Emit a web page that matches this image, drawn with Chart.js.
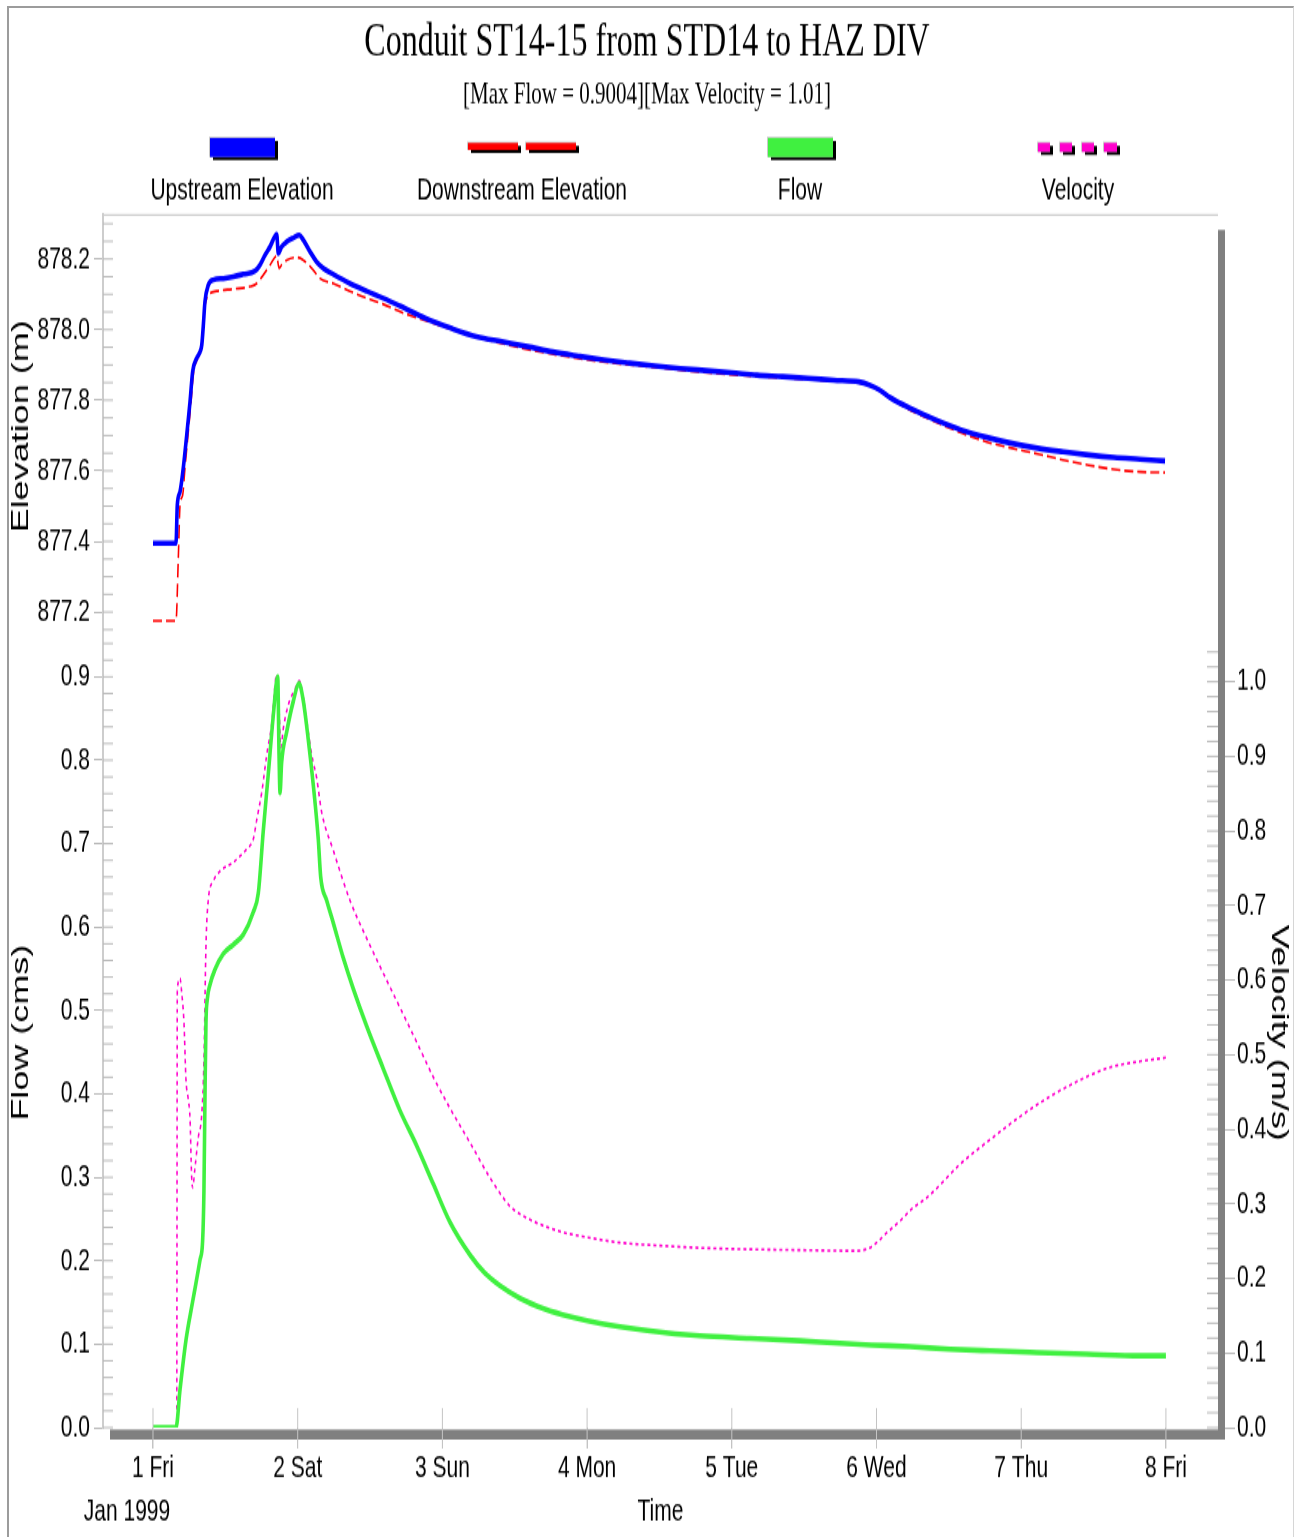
<!DOCTYPE html>
<html>
<head>
<meta charset="utf-8">
<title>Conduit ST14-15 from STD14 to HAZ DIV</title>
<script src="https://cdn.jsdelivr.net/npm/chart.js@4.4.1/dist/chart.umd.min.js"></script>
<style>
  html, body { margin: 0; padding: 0; background: #fff; }
  body { width: 1294px; height: 1537px; position: relative; overflow: hidden; }
  #frame { position: absolute; left: 7px; top: 6px; width: 1284px; height: 1540px;
           border-left: 2px solid #9c9c9c; border-top: 2px solid #9c9c9c; border-right: 1px solid #d6d6d6; }
  #chart { position: absolute; left: 0; top: 0; }
</style>
</head>
<body>
<div id="frame"></div>
<!-- the source picture is a screenshot stretched vertically, so the canvas is drawn
     1025px high and shown 1537px high -->
<canvas id="chart" width="1294" height="1025" style="width:1294px;height:1537px"></canvas>
<script>
// --- data (days of Jan 1999 on x) ---
const dayTicks = [1, 2, 3, 4, 5, 6, 7, 8];
const dayLabels = ["1 Fri", "2 Sat", "3 Sun", "4 Mon", "5 Tue", "6 Wed", "7 Thu", "8 Fri"];
const elevTicks = [877.2, 877.4, 877.6, 877.8, 878.0, 878.2];
const flowTicks = [0, 0.1, 0.2, 0.3, 0.4, 0.5, 0.6, 0.7, 0.8, 0.9];
const velTicks = [0, 0.1, 0.2, 0.3, 0.4, 0.5, 0.6, 0.7, 0.8, 0.9, 1.0];

const upTime = [1.000, 1.159, 1.168, 1.187, 1.209, 1.233, 1.256, 1.274, 1.302, 1.325,
  1.337, 1.348, 1.359, 1.382, 1.417, 1.486, 1.555, 1.624, 1.705, 1.739,
  1.774, 1.809, 1.855, 1.866, 1.889, 1.924, 1.970, 2.011, 2.039, 2.085,
  2.131, 2.177, 2.246, 2.361, 2.477, 2.592, 2.707, 2.883, 3.059, 3.236,
  3.412, 3.589, 3.764, 3.941, 4.117, 4.294, 4.469, 4.646, 4.822, 4.999,
  5.174, 5.352, 5.527, 5.704, 5.879, 5.951, 6.022, 6.092, 6.233, 6.409,
  6.585, 6.762, 6.936, 7.115, 7.289, 7.467, 7.641, 7.821, 7.994];
const upElev = [877.395, 877.395, 877.503, 877.541, 877.607, 877.701, 877.796, 877.881, 877.919, 877.937,
  877.956, 878.013, 878.079, 878.126, 878.141, 878.145, 878.150, 878.157, 878.166, 878.183,
  878.211, 878.235, 878.270, 878.216, 878.235, 878.249, 878.260, 878.268, 878.254, 878.221,
  878.192, 878.174, 878.157, 878.131, 878.109, 878.089, 878.067, 878.032, 878.004, 877.980,
  877.966, 877.952, 877.937, 877.925, 877.914, 877.905, 877.897, 877.890, 877.884, 877.878,
  877.871, 877.867, 877.862, 877.857, 877.852, 877.843, 877.829, 877.808, 877.777, 877.744,
  877.716, 877.695, 877.678, 877.664, 877.654, 877.645, 877.638, 877.633, 877.628];

const dnTime = [1.000, 1.159, 1.175, 1.187, 1.205, 1.221, 1.242, 1.263, 1.280, 1.304,
  1.328, 1.342, 1.352, 1.363, 1.382, 1.440, 1.555, 1.670, 1.717, 1.762,
  1.809, 1.855, 1.871, 1.889, 1.924, 1.993, 2.039, 2.108, 2.154, 2.246,
  2.361, 2.477, 2.592, 2.707, 2.822, 2.937, 3.053, 3.398, 3.744, 4.089,
  4.435, 4.780, 5.195, 5.610, 5.886, 5.990, 6.094, 6.232, 6.411, 6.584,
  6.762, 6.936, 7.115, 7.289, 7.467, 7.641, 7.821, 7.994];
const dnElev = [877.175, 877.175, 877.353, 877.503, 877.531, 877.608, 877.701, 877.795, 877.877, 877.914,
  877.937, 877.971, 878.041, 878.075, 878.098, 878.109, 878.115, 878.122, 878.131, 878.155,
  878.183, 878.209, 878.174, 878.183, 878.197, 878.205, 878.197, 878.169, 878.145, 878.131,
  878.109, 878.089, 878.072, 878.051, 878.034, 878.018, 878.002, 877.962, 877.932, 877.910,
  877.895, 877.880, 877.867, 877.857, 877.849, 877.835, 877.806, 877.772, 877.738, 877.708,
  877.682, 877.664, 877.648, 877.631, 877.616, 877.604, 877.597, 877.595];

const flowTime = [1.000, 1.159, 1.187, 1.228, 1.276, 1.325, 1.343, 1.352, 1.359, 1.366,
  1.375, 1.394, 1.428, 1.486, 1.555, 1.624, 1.693, 1.728, 1.762, 1.797,
  1.831, 1.862, 1.871, 1.878, 1.889, 1.924, 1.970, 2.009, 2.039, 2.073,
  2.108, 2.142, 2.159, 2.200, 2.246, 2.315, 2.384, 2.477, 2.592, 2.707,
  2.822, 2.937, 3.053, 3.191, 3.294, 3.398, 3.536, 3.709, 3.882, 4.089,
  4.435, 4.780, 5.126, 5.471, 5.748, 5.967, 6.232, 6.508, 6.784, 7.107,
  7.453, 7.821, 8.000];
const flowVal = [0, 0, 0.046, 0.105, 0.153, 0.201, 0.224, 0.283, 0.393, 0.485,
  0.513, 0.531, 0.549, 0.568, 0.579, 0.591, 0.618, 0.641, 0.715, 0.784,
  0.853, 0.900, 0.807, 0.761, 0.797, 0.834, 0.871, 0.892, 0.871, 0.825,
  0.770, 0.706, 0.660, 0.632, 0.605, 0.563, 0.526, 0.481, 0.430, 0.380,
  0.338, 0.292, 0.246, 0.207, 0.185, 0.170, 0.155, 0.142, 0.133, 0.125,
  0.116, 0.110, 0.107, 0.104, 0.101, 0.099, 0.097, 0.094, 0.092, 0.090,
  0.088, 0.086, 0.086];

const velTime = [1.000, 1.164, 1.168, 1.187, 1.198, 1.214, 1.228, 1.244, 1.256, 1.267,
  1.274, 1.290, 1.313, 1.337, 1.352, 1.366, 1.382, 1.417, 1.463, 1.555,
  1.648, 1.693, 1.717, 1.751, 1.786, 1.820, 1.855, 1.871, 1.883, 1.901,
  1.935, 1.981, 2.011, 2.039, 2.062, 2.097, 2.131, 2.166, 2.246, 2.361,
  2.477, 2.592, 2.707, 2.822, 2.937, 3.053, 3.191, 3.329, 3.467, 3.605,
  3.813, 4.006, 4.227, 4.504, 4.780, 5.126, 5.471, 5.840, 5.943, 6.001,
  6.070, 6.162, 6.254, 6.347, 6.462, 6.577, 6.784, 6.992, 7.199, 7.406,
  7.614, 7.821, 8.000];
const velVal = [0, 0, 0.586, 0.602, 0.584, 0.543, 0.466, 0.440, 0.414, 0.337,
  0.322, 0.348, 0.389, 0.420, 0.491, 0.645, 0.707, 0.733, 0.746, 0.758,
  0.776, 0.789, 0.815, 0.851, 0.902, 0.943, 1.010, 0.964, 0.912, 0.938,
  0.969, 0.990, 1.001, 0.979, 0.948, 0.902, 0.871, 0.825, 0.774, 0.707,
  0.656, 0.609, 0.563, 0.517, 0.470, 0.428, 0.382, 0.335, 0.297, 0.279,
  0.263, 0.255, 0.248, 0.244, 0.241, 0.239, 0.238, 0.237, 0.240, 0.248,
  0.261, 0.277, 0.295, 0.308, 0.330, 0.353, 0.386, 0.417, 0.444, 0.466,
  0.483, 0.491, 0.496];

// --- look ---
const SANS = "'Liberation Sans', Arial, sans-serif";
const SERIF = "'Liberation Serif', 'Times New Roman', serif";
const TICK_GRAY = "#b9b9b9";

Chart.defaults.color = "#000";
Chart.defaults.font.family = SANS;

const pts = (xs, ys) => xs.map((x, i) => ({ x, y: ys[i] }));
const fixed = vals => scale => { scale.ticks = vals.map(v => ({ value: v })); };

// legend marker kinds and centres (drawn by plugin below)
const legendKinds = ["box", "dash", "box", "dot"];
const legendCenters = [242, 522, 800, 1078];

// minor tick marks drawn inside the frame, like the source
const minorTicks = {
  id: "minorTicks",
  beforeDatasetsDraw(chart) {
    const { ctx, chartArea: a, scales } = chart;
    ctx.save();
    ctx.strokeStyle = TICK_GRAY;
    ctx.lineWidth = 1;
    const run = (scale, from, step, n, x0, x1) => {
      for (let k = 0; k <= n; k++) {
        const py = scale.getPixelForValue(from + k * step);
        ctx.beginPath(); ctx.moveTo(x0, py); ctx.lineTo(x1, py); ctx.stroke();
      }
    };
    run(scales.yElev, 877.15, 0.05, 23, a.left, a.left + 10);
    run(scales.yFlow, 0, 0.02, 47, a.left, a.left + 10);
    run(scales.yVel, 0, 0.02, 52, a.right - 11, a.right);
    ctx.restore();
  }
};

// frame top line, grey drop shadow on right and bottom, x ticks over it
const frame = {
  id: "frame",
  afterDatasetsDraw(chart) {
    const { ctx, chartArea: a, scales } = chart;
    ctx.save();
    ctx.strokeStyle = "#cdcdcd";
    ctx.lineWidth = 1.2;
    ctx.beginPath(); ctx.moveTo(a.left, a.top); ctx.lineTo(a.right, a.top); ctx.stroke();
    ctx.fillStyle = "#808080";
    ctx.fillRect(a.right, a.top + 10, 7, a.bottom - a.top - 10 + 8);
    ctx.fillRect(a.left + 7, a.bottom + 1.3, a.right - a.left, 6.7);
    ctx.strokeStyle = "#c4c4c4";
    ctx.lineWidth = 1;
    dayTicks.forEach(d => {
      const px = scales.x.getPixelForValue(d);
      ctx.beginPath(); ctx.moveTo(px, a.bottom - 13); ctx.lineTo(px, a.bottom + 14); ctx.stroke();
    });
    ctx.restore();
  },
  afterDraw(chart) {
    const ctx = chart.ctx;
    ctx.save();
    // legend: marker above label
    chart.data.datasets.forEach((ds, i) => {
      const cx = legendCenters[i];
      const kind = legendKinds[i];
      let rects;
      if (kind === "box") rects = [[cx - 32, 92, 65, 12.7]];
      else if (kind === "dash") rects = [[cx - 54, 95.3, 50, 4.7], [cx + 4, 95.3, 50, 4.7]];
      else rects = [[cx - 40, 95.3, 12, 6], [cx - 18, 95.3, 12, 6], [cx + 4, 95.3, 12, 6], [cx + 26, 95.3, 13, 6]];
      rects.forEach(([x, y, w, h]) => {
        ctx.fillStyle = "#000";
        ctx.fillRect(x + 3, y + 2, w, h);
        ctx.fillStyle = "#c8c8c8";
        ctx.fillRect(x - 1, y - 0.8, w + 1, h + 0.8);
        ctx.fillStyle = ds.borderColor;
        ctx.fillRect(x, y, w, h);
      });
      ctx.fillStyle = "#000";
      ctx.font = "21px " + SANS;
      ctx.textAlign = "center";
      ctx.textBaseline = "alphabetic";
      ctx.fillText(ds.label, cx, 133.3);
    });
    // date under first day tick
    ctx.font = "21px " + SANS;
    ctx.textBaseline = "middle";
    ctx.fillText("Jan 1999", 127, 1008);
    ctx.restore();
  }
};

const ctx = document.getElementById("chart").getContext("2d");
const chart = new Chart(ctx, {
  type: "line",
  data: {
    datasets: [
      { label: "Upstream Elevation", data: pts(upTime, upElev), yAxisID: "yElev",
        borderColor: "#0000ff", borderWidth: 3.6 },
      { label: "Downstream Elevation", data: pts(dnTime, dnElev), yAxisID: "yElev",
        borderColor: "#ff0000", borderWidth: 1.6, borderDash: [9, 4] },
      { label: "Flow", data: pts(flowTime, flowVal), yAxisID: "yFlow",
        borderColor: "#40f040", borderWidth: 3.6 },
      { label: "Velocity", data: pts(velTime, velVal), yAxisID: "yVel",
        borderColor: "#ff00cc", borderWidth: 1.6, borderDash: [3, 3] }
    ]
  },
  options: {
    responsive: false,
    animation: false,
    devicePixelRatio: 1,
    layout: { padding: 0 },
    elements: { point: { radius: 0 }, line: { cubicInterpolationMode: "monotone" } },
    plugins: {
      legend: { display: false },
      tooltip: { enabled: false },
      title: {
        display: true, text: "Conduit ST14-15 from STD14 to HAZ DIV", color: "#000",
        font: { family: SERIF, size: 32, weight: "normal", lineHeight: 1 },
        padding: { top: 12.9, bottom: 0 }
      },
      subtitle: {
        display: true, text: "[Max Flow = 0.9004][Max Velocity = 1.01]", color: "#000",
        font: { family: SERIF, size: 21, weight: "normal", lineHeight: 1 },
        padding: { top: 8.2, bottom: 69.2 }
      }
    },
    scales: {
      x: {
        type: "linear", min: 0.6545, max: 8.36,
        afterBuildTicks: fixed(dayTicks),
        afterFit: s => { s.height = 73; },
        ticks: { callback: (v, i) => dayLabels[i], autoSkip: false, maxRotation: 0, padding: 1,
                 font: { size: 21 } },
        grid: { drawOnChartArea: false, tickLength: 14, color: "#c4c4c4" },
        border: { display: false },
        title: { display: true, text: "Time", font: { size: 21, lineHeight: 1 },
                 padding: { top: 0, bottom: 6.5 } }
      },
      yElev: {
        type: "linear", position: "left", stack: "L", stackWeight: 423, weight: 1,
        min: 877.127, max: 878.325,
        afterBuildTicks: fixed(elevTicks),
        afterFit: s => { s.width = 103; },
        ticks: { callback: v => v.toFixed(1), padding: 4, font: { size: 21 } },
        grid: { drawOnChartArea: false, tickLength: 9, color: TICK_GRAY },
        border: { color: "#cdcdcd", width: 2 },
        title: { display: true, text: "Elevation (m)", font: { size: 24, lineHeight: 1 },
                 padding: { top: 9, bottom: 0 } }
      },
      yFlow: {
        type: "linear", position: "left", stack: "L", stackWeight: 790, weight: 0,
        min: 0, max: 0.9468,
        afterBuildTicks: fixed(flowTicks),
        afterFit: s => { s.width = 103; },
        ticks: { callback: v => v.toFixed(1), padding: 4, font: { size: 21 } },
        grid: { drawOnChartArea: false, tickLength: 9, color: TICK_GRAY },
        border: { color: "#cdcdcd", width: 2 },
        title: { display: true, text: "Flow (cms)", font: { size: 24, lineHeight: 1 },
                 padding: { top: 9, bottom: 0 } }
      },
      yRightTop: {
        type: "linear", position: "right", stack: "R", stackWeight: 423, weight: 0,
        min: 0, max: 1,
        afterFit: s => { s.width = 76; },
        ticks: { display: false },
        grid: { display: false },
        border: { display: false }
      },
      yVel: {
        type: "linear", position: "right", stack: "R", stackWeight: 790, weight: 1,
        min: 0, max: 1.059,
        afterBuildTicks: fixed(velTicks),
        afterFit: s => { s.width = 76; },
        ticks: { callback: v => v.toFixed(1), padding: 2, font: { size: 21 } },
        grid: { drawOnChartArea: false, tickLength: 17, color: TICK_GRAY },
        border: { display: false },
        title: { display: true, text: "Velocity (m/s)", font: { size: 24, lineHeight: 1 },
                 padding: { top: 3, bottom: 0 } }
      }
    }
  },
  plugins: [minorTicks, frame]
});
</script>
</body>
</html>
